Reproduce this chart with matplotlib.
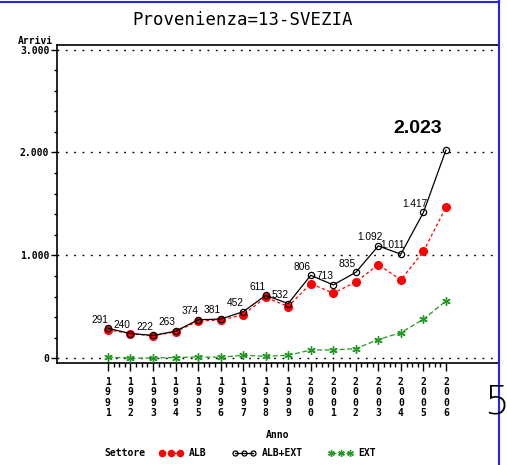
import matplotlib
matplotlib.use('Agg')
import matplotlib.pyplot as plt
from matplotlib.ticker import FixedLocator, FixedFormatter
from matplotlib.lines import Line2D

# ---- data ----
years = list(range(1991, 2007))
alb_ext = [291, 240, 222, 263, 374, 381, 452, 611, 532, 806, 713, 835, 1092, 1011, 1417, 2023]
ext = [13, 0, 3, 7, 13, 10, 29, 19, 29, 80, 81, 94, 182, 249, 379, 556]
alb = [t - e for t, e in zip(alb_ext, ext)]
y_major = [0, 1000, 2000, 3000]
y_labels = ['0', '1.000', '2.000', '3.000']
title = 'Provenienza=13-SVEZIA'

W, H = 507, 465
fig = plt.figure(figsize=(W / 100, H / 100), dpi=100)
ax = fig.add_axes([57 / W, 1 - 363 / H, (498 - 57) / W, (363 - 45) / H])

mono = 'DejaVu Sans Mono'
red = '#ff0000'
green = '#229922'

ax.set_xlim(1988.74, 2008.31)
ax.set_ylim(-46, 3044)

for g in y_major:
    ax.axhline(g, color='black', lw=1.0, ls=(0, (1.3, 4.7)), zorder=1)

ax.plot(years, alb, color=red, ls=(0, (2.5, 2)), lw=0.9, marker='o',
        ms=5.5, mfc=red, mec=red, zorder=3, label='ALB')
ax.plot(years, alb_ext, color='black', ls='-', lw=0.9, marker='o',
        ms=4.5, mfc='none', mec='black', mew=0.9, zorder=4, label='ALB+EXT')
ax.plot(years, ext, color=green, ls=(0, (4, 2)), lw=0.9, marker=(6, 2, 0),
        ms=6, mec=green, mew=1.0, zorder=3, label='EXT')

def fmt(v):
    return f'{v:,}'.replace(',', '.')

for i, (x, v) in enumerate(zip(years, alb_ext)):
    if i == len(years) - 1:
        ax.annotate(fmt(v), (x, v), xytext=(-20, 15.5), textcoords='offset points',
                    ha='center', va='center', fontsize=14, fontweight='bold',
                    family='Liberation Sans', zorder=6)
    else:
        ax.annotate(fmt(v), (x, v), xytext=(-6, 6.3), textcoords='offset points',
                    ha='center', va='center', fontsize=7.3,
                    family='Liberation Sans', zorder=6)

# spines
for s in ['left', 'bottom', 'top']:
    ax.spines[s].set_color('black')
    ax.spines[s].set_linewidth(1.2)
ax.spines['right'].set_visible(False)

# y ticks
ax.yaxis.set_major_locator(FixedLocator(y_major))
ax.yaxis.set_major_formatter(FixedFormatter(y_labels))
ax.yaxis.set_minor_locator(FixedLocator([v for v in range(0, 3001, 200) if v % 1000]))
ax.tick_params(axis='y', which='major', direction='out', length=4, width=1,
               labelsize=7, pad=1.5)
ax.tick_params(axis='y', which='minor', direction='out', length=2.5, width=1)
for t in ax.get_yticklabels():
    t.set_family(mono)
    t.set_fontweight('bold')

# x ticks
ax.xaxis.set_major_locator(FixedLocator(years))
ax.xaxis.set_major_formatter(FixedFormatter(['\n'.join(str(y)) for y in years]))
minors = [y + k / 4 for y in years[:-1] for k in (1, 2, 3)]
ax.xaxis.set_minor_locator(FixedLocator(minors))
ax.tick_params(axis='x', which='major', direction='out', length=6, width=1,
               labelsize=7, pad=4)
ax.tick_params(axis='x', which='minor', direction='out', length=3, width=1)
for t in ax.get_xticklabels():
    t.set_family(mono)
    t.set_fontweight('bold')
    t.set_linespacing(1.05)

# labels
fig.text(278 / W, 1 - 435 / H, 'Anno', ha='center', va='center', fontsize=7,
         family=mono, fontweight='bold')
fig.text(53 / W, 1 - 41 / H, 'Arrivi', ha='right', va='center', fontsize=7,
         family=mono, fontweight='bold')
fig.text(243 / W, 1 - 20 / H, title, ha='center', va='center', fontsize=12.5,
         family=mono)

# legend
fig.text(104 / W, 1 - 453 / H, 'Settore', ha='left', va='center', fontsize=7,
         family=mono, fontweight='bold')
h, l = ax.get_legend_handles_labels()
leg = fig.legend(h, l, loc='center left', bbox_to_anchor=(151 / W, 1 - 453 / H),
                 ncol=3, frameon=False, numpoints=3, handlelength=2.5,
                 handletextpad=0.6, columnspacing=2.6, borderpad=0.3,
                 markerscale=0.8,
                 prop={'family': mono, 'size': 7, 'weight': 'bold'})

# screenshot border and stray text
fig.add_artist(Line2D([498.5 / W, 498.5 / W], [0, 1], color='#2222ff', lw=1.5))
fig.add_artist(Line2D([0, 498.5 / W], [1 - 2 / H, 1 - 2 / H], color='#2222ff', lw=1.5))
fig.text(484 / W, 1 - 402 / H, '55', ha='left', va='center', fontsize=28,
         family='DejaVu Sans', fontweight='light', color='black')

fig.savefig('out.png', dpi=100)
